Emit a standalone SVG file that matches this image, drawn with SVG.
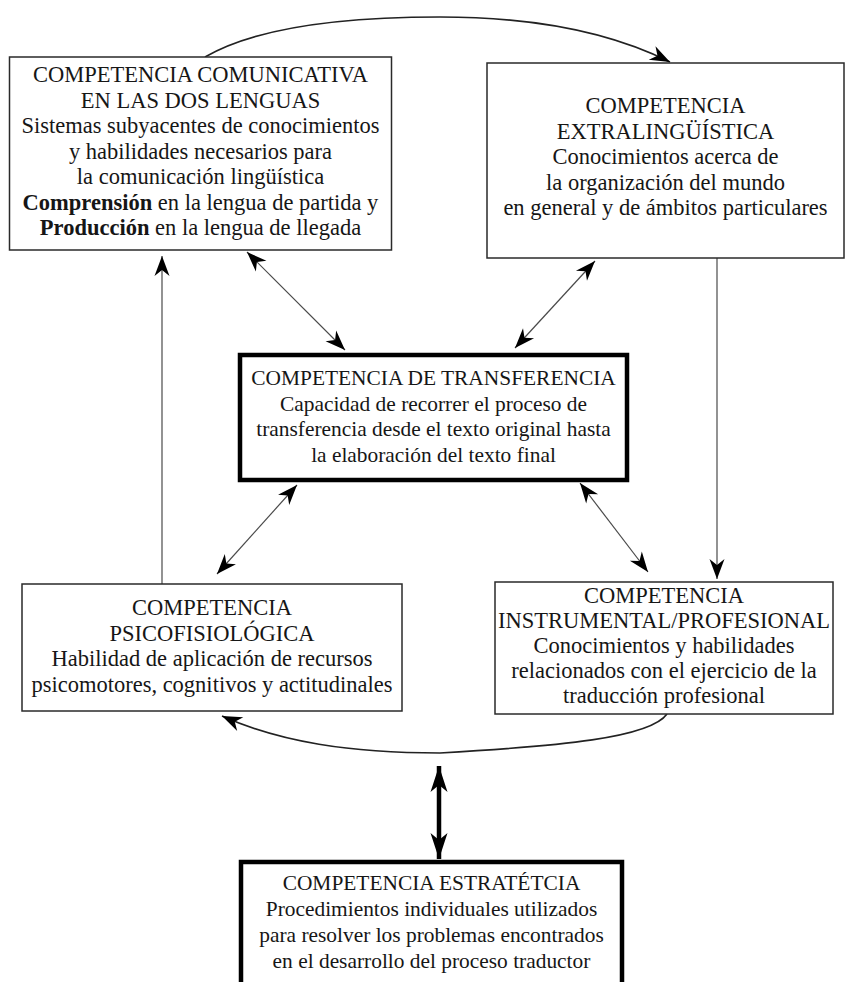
<svg xmlns="http://www.w3.org/2000/svg" width="854" height="982" viewBox="0 0 854 982">
<style>
text{font-family:"Liberation Serif","Times New Roman",serif;font-size:21.4px;fill:#161616;text-anchor:middle}
.s{font-size:22.5px}
.box{fill:#fff;stroke:#2a2a2a;stroke-width:1.5}
.thick{fill:#fff;stroke:#000;stroke-width:4.5}
.ln{fill:none;stroke:#4a4a4a;stroke-width:1.2}
.cv{fill:none;stroke:#222;stroke-width:1.6}
.big{fill:none;stroke:#000;stroke-width:4.5}
.b{font-weight:bold}
</style>
<defs>
<marker id="ah" markerUnits="userSpaceOnUse" viewBox="-22 -9 24 18" refX="0" refY="0" markerWidth="24" markerHeight="18" orient="auto-start-reverse">
<path d="M0,0 L-20,-7.5 L-14,0 L-20,7.5 Z" fill="#000"/>
</marker>
<marker id="ahb" markerUnits="userSpaceOnUse" viewBox="-28 -11 30 22" refX="0" refY="0" markerWidth="30" markerHeight="22" orient="auto-start-reverse">
<path d="M0,0 L-26,-8.5 L-19,0 L-26,8.5 Z" fill="#000"/>
</marker>
</defs>
<g id="connectors">
<path class="cv" d="M205,57 C260,25 350,17 440,17 C530,17 610,32 670,62" marker-end="url(#ah)"/>
<line class="ln" x1="247" y1="252" x2="345" y2="350" marker-start="url(#ah)" marker-end="url(#ah)"/>
<line class="ln" x1="595" y1="261" x2="515" y2="348" marker-start="url(#ah)" marker-end="url(#ah)"/>
<line class="ln" x1="297" y1="485" x2="217" y2="574" marker-start="url(#ah)" marker-end="url(#ah)"/>
<line class="ln" x1="580" y1="483" x2="648" y2="572" marker-start="url(#ah)" marker-end="url(#ah)"/>
<line class="ln" x1="162" y1="584" x2="162" y2="256" marker-end="url(#ah)"/>
<line class="ln" x1="717" y1="258" x2="717" y2="579" marker-end="url(#ah)"/>
<path class="cv" d="M667,714 C650,738 560,746 440,753 C350,753 280,742 222,716" marker-end="url(#ah)"/>
<line class="big" x1="439" y1="766" x2="439" y2="859" marker-start="url(#ahb)" marker-end="url(#ahb)"/>
</g>
<g id="comunicativa">
<rect class="box" x="9.5" y="57" width="382" height="193"/>
<text class="s" x="200.5" y="82">COMPETENCIA COMUNICATIVA</text>
<text class="s" x="200.5" y="107.5">EN LAS DOS LENGUAS</text>
<text class="s" x="200.5" y="133">Sistemas subyacentes de conocimientos</text>
<text class="s" x="200.5" y="158.5">y habilidades necesarios para</text>
<text class="s" x="200.5" y="184">la comunicación lingüística</text>
<text class="s" x="200.5" y="209.5"><tspan class="b">Comprensión</tspan> en la lengua de partida y</text>
<text class="s" x="200.5" y="235"><tspan class="b">Producción</tspan> en la lengua de llegada</text>
</g>
<g id="extralinguistica">
<rect class="box" x="487" y="63" width="357" height="195"/>
<text class="s" x="665.5" y="113">COMPETENCIA</text>
<text class="s" x="665.5" y="138.5">EXTRALINGÜÍSTICA</text>
<text class="s" x="665.5" y="164">Conocimientos acerca de</text>
<text class="s" x="665.5" y="189.5">la organización del mundo</text>
<text class="s" x="665.5" y="215">en general y de ámbitos particulares</text>
</g>
<g id="transferencia">
<rect class="thick" x="240" y="355" width="387" height="125"/>
<text x="433.5" y="385">COMPETENCIA DE TRANSFERENCIA</text>
<text x="433.5" y="410.5">Capacidad de recorrer el proceso de</text>
<text x="433.5" y="436">transferencia desde el texto original hasta</text>
<text x="433.5" y="461.5">la elaboración del texto final</text>
</g>
<g id="psicofisiologica">
<rect class="box" x="22" y="584" width="380" height="127"/>
<text class="s" x="212" y="615">COMPETENCIA</text>
<text class="s" x="212" y="640.5">PSICOFISIOLÓGICA</text>
<text class="s" x="212" y="666">Habilidad de aplicación de recursos</text>
<text class="s" x="212" y="691.5">psicomotores, cognitivos y actitudinales</text>
</g>
<g id="instrumental">
<rect class="box" x="495" y="582" width="338" height="132"/>
<text class="s" x="664" y="603">COMPETENCIA</text>
<text class="s" x="664" y="628">INSTRUMENTAL/PROFESIONAL</text>
<text class="s" x="664" y="653">Conocimientos y habilidades</text>
<text class="s" x="664" y="678">relacionados con el ejercicio de la</text>
<text class="s" x="664" y="703">traducción profesional</text>
</g>
<g id="estrategica">
<rect class="thick" x="241" y="862" width="381" height="130"/>
<text x="431.5" y="890">COMPETENCIA ESTRATÉTCIA</text>
<text x="431.5" y="916">Procedimientos individuales utilizados</text>
<text x="431.5" y="942">para resolver los problemas encontrados</text>
<text x="431.5" y="968">en el desarrollo del proceso traductor</text>
</g>
</svg>
